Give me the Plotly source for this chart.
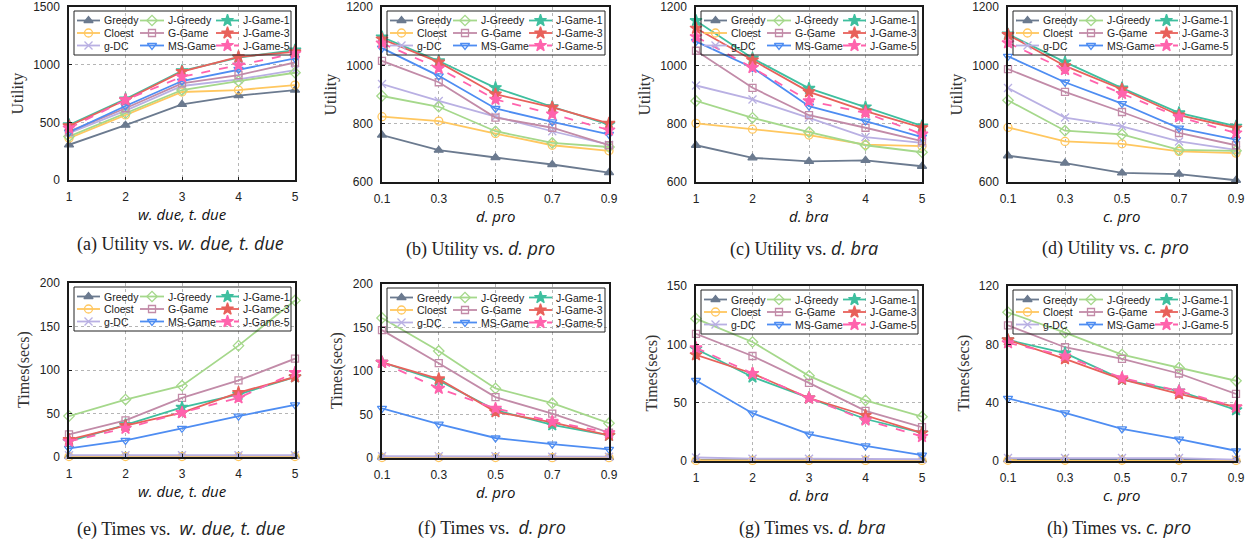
import plotly.graph_objects as go

W, H = 1252, 546

x_int = [1, 2, 3, 4, 5]
x_frac = [0.1, 0.3, 0.5, 0.7, 0.9]
x_int_labels = ["1", "2", "3", "4", "5"]
x_frac_labels = ["0.1", "0.3", "0.5", "0.7", "0.9"]

series_names = ["Greedy", "Cloest", "g-DC", "J-Greedy", "G-Game", "MS-Game",
                "J-Game-1", "J-Game-3", "J-Game-5"]

# ---- Utility panels ----
util_due = {
    "Greedy":   [305, 475, 656, 731, 780],
    "Cloest":   [363, 564, 763, 780, 823],
    "g-DC":     [406, 602, 815, 872, 953],
    "J-Greedy": [377, 579, 780, 858, 930],
    "G-Game":   [420, 622, 838, 910, 1019],
    "MS-Game":  [415, 642, 858, 959, 1054],
    "J-Game-1": [478, 702, 947, 1062, 1126],
    "J-Game-3": [469, 694, 939, 1068, 1111],
    "J-Game-5": [449, 694, 895, 996, 1097],
}
util_dpro = {
    "Greedy":   [761, 709, 684, 660, 632],
    "Cloest":   [824, 809, 766, 726, 707],
    "g-DC":     [936, 878, 824, 774, 728],
    "J-Greedy": [895, 858, 774, 734, 720],
    "G-Game":   [1015, 942, 821, 786, 726],
    "MS-Game":  [1059, 964, 852, 806, 763],
    "J-Game-1": [1097, 1015, 923, 858, 797],
    "J-Game-3": [1090, 1011, 901, 856, 801],
    "J-Game-5": [1076, 990, 883, 833, 778],
}
util_dbra = {
    "Greedy":   [726, 683, 671, 674, 654],
    "Cloest":   [801, 781, 761, 728, 723],
    "g-DC":     [931, 883, 820, 754, 734],
    "J-Greedy": [878, 820, 771, 726, 702],
    "G-Game":   [1050, 923, 829, 786, 740],
    "MS-Game":  [1082, 992, 860, 809, 754],
    "J-Game-1": [1153, 1024, 921, 857, 792],
    "J-Game-3": [1127, 1018, 909, 843, 786],
    "J-Game-5": [1098, 992, 878, 837, 764],
}
util_cpro = {
    "Greedy":   [690, 665, 631, 627, 606],
    "Cloest":   [787, 739, 731, 705, 699],
    "g-DC":     [922, 821, 791, 739, 710],
    "J-Greedy": [880, 776, 763, 710, 707],
    "G-Game":   [987, 909, 840, 768, 726],
    "MS-Game":  [1031, 942, 869, 785, 745],
    "J-Game-1": [1107, 1011, 922, 837, 791],
    "J-Game-3": [1105, 998, 918, 829, 785],
    "J-Game-5": [1077, 985, 903, 823, 768],
}

# ---- Time panels ----
time_due = {
    "Greedy":   [1, 1, 1, 1, 1],
    "Cloest":   [0.5, 0.5, 0.5, 0.5, 0.5],
    "g-DC":     [2, 2, 2, 2, 2],
    "J-Greedy": [47, 66, 82, 128, 180],
    "G-Game":   [26, 42, 68, 88, 113],
    "MS-Game":  [10, 19, 33, 47, 60],
    "J-Game-1": [18, 37, 57, 72, 92],
    "J-Game-3": [20, 36, 51, 74, 92],
    "J-Game-5": [18, 33, 51, 68, 97],
}
time_dpro = {
    "Greedy":   [1, 1, 1, 0.8, 0.8],
    "Cloest":   [0.5, 0.5, 0.5, 0.4, 0.4],
    "g-DC":     [2, 2, 2, 1.5, 1.5],
    "J-Greedy": [161, 123, 80, 63, 40],
    "G-Game":   [147, 109, 70, 51, 29],
    "MS-Game":  [57, 39, 23, 16, 10],
    "J-Game-1": [110, 89, 55, 38, 26],
    "J-Game-3": [110, 91, 53, 41, 26],
    "J-Game-5": [110, 80, 57, 42, 29],
}
time_dbra = {
    "Greedy":   [1, 1, 1, 1, 1],
    "Cloest":   [0.5, 0.5, 0.5, 0.5, 0.5],
    "g-DC":     [3, 2, 2, 1.5, 1.5],
    "J-Greedy": [122, 102, 73, 52, 38],
    "G-Game":   [109, 90, 67, 43, 29],
    "MS-Game":  [69, 41, 23, 13, 5],
    "J-Game-1": [96, 72, 54, 36, 24],
    "J-Game-3": [91, 75, 54, 39, 24],
    "J-Game-5": [97, 75, 54, 35, 21],
}
time_cpro = {
    "Greedy":   [1, 1, 1, 1, 0.8],
    "Cloest":   [0.5, 0.5, 0.5, 0.5, 0.4],
    "g-DC":     [2, 2, 2, 2, 1],
    "J-Greedy": [102, 88, 73, 64, 55],
    "G-Game":   [93, 78, 70, 60, 46],
    "MS-Game":  [43, 33, 22, 15, 7],
    "J-Game-1": [83, 74, 56, 48, 35],
    "J-Game-3": [83, 70, 56, 46, 37],
    "J-Game-5": [81, 72, 57, 48, 37],
}

styles = {
    "Greedy":   dict(color="#6B7A8F", symbol="triangle-up", size=8, dash="solid"),
    "Cloest":   dict(color="#FFC75F", symbol="circle-open", size=8, dash="solid"),
    "g-DC":     dict(color="#B9B0E3", symbol="x-thin-open", size=8, dash="solid"),
    "J-Greedy": dict(color="#A5D88B", symbol="diamond-open", size=8, dash="solid"),
    "G-Game":   dict(color="#C28BA8", symbol="square-open", size=7, dash="solid"),
    "MS-Game":  dict(color="#4E8DF2", symbol="triangle-down-open", size=8, dash="solid"),
    "J-Game-1": dict(color="#3FBF9F", symbol="star", size=9, dash="solid"),
    "J-Game-3": dict(color="#E8615B", symbol="star", size=9, dash="solid"),
    "J-Game-5": dict(color="#FF63AD", symbol="star", size=9, dash="dash"),
}

math_open = "<span style='font-family:Open Sans'><i>"
math_close = "</i></span>"

panels = [
    dict(data=util_due, x=x_int, xt=x_int_labels, xr=[1, 5], yr=[0, 1500], yt=[0, 500, 1000, 1500],
         ytitle="Utility", xtitle="w. due, t. due", cap="(a) Utility vs. ", box=(69, 295, 7, 180), capx=180, capy=243),
    dict(data=util_dpro, x=x_frac, xt=x_frac_labels, xr=[0.1, 0.9], yr=[600, 1200], yt=[600, 800, 1000, 1200],
         ytitle="Utility", xtitle="d. pro", cap="(b) Utility vs. ", box=(382, 609, 7, 182), capx=480, capy=248),
    dict(data=util_dbra, x=x_int, xt=x_int_labels, xr=[1, 5], yr=[600, 1200], yt=[600, 800, 1000, 1200],
         ytitle="Utility", xtitle="d. bra", cap="(c) Utility vs. ", box=(696, 922, 7, 182), capx=804, capy=248),
    dict(data=util_cpro, x=x_frac, xt=x_frac_labels, xr=[0.1, 0.9], yr=[600, 1200], yt=[600, 800, 1000, 1200],
         ytitle="Utility", xtitle="c. pro", cap="(d) Utility vs. ", box=(1008, 1236, 7, 182), capx=1115, capy=247),
    dict(data=time_due, x=x_int, xt=x_int_labels, xr=[1, 5], yr=[0, 200], yt=[0, 50, 100, 150, 200],
         ytitle="Times(secs)", xtitle="w. due, t. due", cap="(e) Times vs.  ", box=(69, 295, 283, 457), capx=181, capy=528),
    dict(data=time_dpro, x=x_frac, xt=x_frac_labels, xr=[0.1, 0.9], yr=[0, 200], yt=[0, 50, 100, 150, 200],
         ytitle="Times(secs)", xtitle="d. pro", cap="(f) Times vs.  ", box=(382, 609, 284, 458), capx=492, capy=527),
    dict(data=time_dbra, x=x_int, xt=x_int_labels, xr=[1, 5], yr=[0, 150], yt=[0, 50, 100, 150],
         ytitle="Times(secs)", xtitle="d. bra", cap="(g) Times vs. ", box=(696, 922, 286, 461), capx=812, capy=527),
    dict(data=time_cpro, x=x_frac, xt=x_frac_labels, xr=[0.1, 0.9], yr=[0, 120], yt=[0, 40, 80, 120],
         ytitle="Times(secs)", xtitle="c. pro", cap="(h) Times vs. ", box=(1008, 1236, 286, 461), capx=1119, capy=527),
]

fig = go.Figure()
annotations = []
shapes = []

tickfont = dict(family="Liberation Sans, Arial", size=12, color="#222")

for i, p in enumerate(panels):
    n = "" if i == 0 else str(i + 1)
    xa, ya = "x" + n, "y" + n
    l, r, t, b = p["box"]
    for s in series_names:
        st = styles[s]
        fig.add_trace(go.Scatter(
            x=p["x"], y=p["data"][s], xaxis=xa, yaxis=ya, mode="lines+markers", name=s,
            line=dict(color=st["color"], width=1.8, dash=st["dash"]),
            marker=dict(symbol=st["symbol"], size=st["size"], color=st["color"],
                        line=dict(color=st["color"], width=1.3)),
            cliponaxis=False, showlegend=False, hoverinfo="skip"))
    fig.layout["xaxis" + n] = dict(
        domain=[l / W, r / W], anchor=ya, range=p["xr"], tickmode="array",
        tickvals=p["x"], ticktext=p["xt"], showgrid=True, gridcolor="#b5b5b5",
        griddash="dot", gridwidth=1, showline=True, linecolor="#1a1a1a", linewidth=1.5,
        mirror=True, ticks="inside", ticklen=3, tickcolor="#1a1a1a", tickfont=tickfont,
        zeroline=False, ticklabelstandoff=5, fixedrange=True, automargin=False)
    fig.layout["yaxis" + n] = dict(
        domain=[1 - b / H, 1 - t / H], anchor=xa, range=p["yr"], tickmode="array",
        tickvals=p["yt"], showgrid=True, gridcolor="#b5b5b5", griddash="dot", gridwidth=1,
        showline=True, linecolor="#1a1a1a", linewidth=1.5, mirror=True, ticks="inside",
        ticklen=3, tickcolor="#1a1a1a", tickfont=tickfont, zeroline=False,
        ticklabelstandoff=5, fixedrange=True, automargin=False)
    # axis titles
    yoff = 52 if p["ytitle"] == "Utility" else 45
    annotations.append(dict(x=(l - yoff) / W, y=1 - ((t + b) / 2) / H, xref="paper", yref="paper",
                            text=p["ytitle"], textangle=-90, showarrow=False,
                            font=dict(family="Liberation Serif", size=16, color="#333"),
                            xanchor="center", yanchor="middle"))
    annotations.append(dict(x=((l + r) / 2) / W, y=1 - (b + 34) / H, xref="paper", yref="paper",
                            text=math_open + p["xtitle"] + math_close, showarrow=False,
                            font=dict(family="Open Sans", size=15, color="#111"),
                            xanchor="center", yanchor="middle"))
    annotations.append(dict(x=p["capx"] / W, y=1 - p["capy"] / H, xref="paper", yref="paper",
                            text=p["cap"] + math_open + p["xtitle"] + math_close, showarrow=False,
                            font=dict(family="Liberation Serif", size=18, color="#222"),
                            xanchor="center", yanchor="middle"))
    # legend box
    bl, br, bt = l + 5, r - 4, t + 4
    bb = bt + 44
    shapes.append(dict(type="rect", xref="paper", yref="paper", x0=bl / W, x1=br / W,
                       y0=1 - bb / H, y1=1 - bt / H, line=dict(color="#222", width=1),
                       fillcolor="rgba(0,0,0,0)", layer="above"))
    p["legbox"] = (bl, bt)

# legend samples on a pixel-space overlay axis
col_line = [(3, 26), (66, 90), (142, 165)]
col_text = [28, 92, 167]
row_off = [9.5, 22, 34.5]
for k, s in enumerate(series_names):
    st = styles[s]
    c, rr = k // 3, k % 3
    lx, ly, mx, my = [], [], [], []
    for p in panels:
        bl, bt = p["legbox"]
        y = bt + row_off[rr]
        lx += [bl + col_line[c][0], bl + col_line[c][1], None]
        ly += [y, y, None]
        mx.append(bl + (col_line[c][0] + col_line[c][1]) / 2)
        my.append(y)
        annotations.append(dict(x=(bl + col_text[c]) / W, y=1 - y / H, xref="paper", yref="paper",
                                text=s, showarrow=False, xanchor="left", yanchor="middle",
                                align="left",
                                font=dict(family="Liberation Sans, Arial", size=10.5, color="#222")))
    fig.add_trace(go.Scatter(x=lx, y=ly, xaxis="x9", yaxis="y9", mode="lines",
                             line=dict(color=st["color"], width=1.8, dash=st["dash"]),
                             showlegend=False, hoverinfo="skip", cliponaxis=False))
    fig.add_trace(go.Scatter(x=mx, y=my, xaxis="x9", yaxis="y9", mode="markers",
                             marker=dict(symbol=st["symbol"], size=st["size"], color=st["color"],
                                         line=dict(color=st["color"], width=1.3)),
                             showlegend=False, hoverinfo="skip", cliponaxis=False))

fig.layout["xaxis9"] = dict(domain=[0, 1], range=[0, W], visible=False, anchor="y9",
                            fixedrange=True, automargin=False)
fig.layout["yaxis9"] = dict(domain=[0, 1], range=[H, 0], visible=False, anchor="x9",
                            fixedrange=True, automargin=False)

fig.update_layout(width=W, height=H, margin=dict(l=0, r=0, t=0, b=0, pad=0, autoexpand=False),
                  paper_bgcolor="white", plot_bgcolor="rgba(0,0,0,0)", showlegend=False,
                  annotations=annotations, shapes=shapes)

fig.write_html("out.html", config={"displayModeBar": False},
               post_script="document.body.style.margin='0px';document.body.style.padding='0px';document.body.style.overflow='hidden';")
